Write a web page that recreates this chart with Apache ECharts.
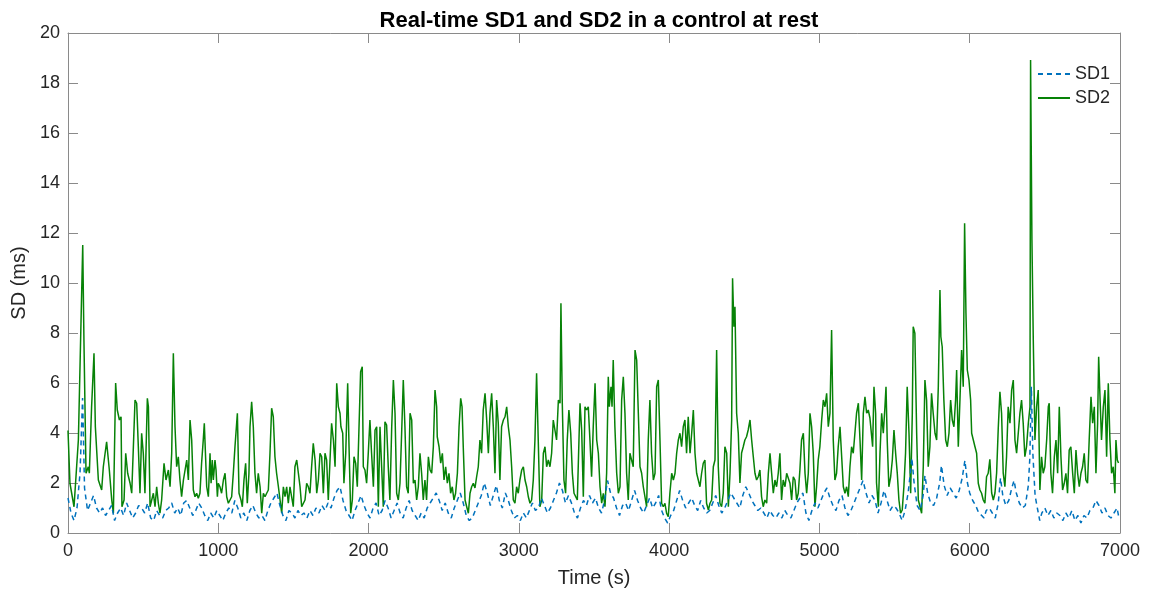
<!DOCTYPE html>
<html>
<head>
<meta charset="utf-8">
<script src="https://cdn.jsdelivr.net/npm/echarts@6/dist/echarts.min.js"></script>
<style>
html,body{margin:0;padding:0;background:#fff;}
#chart{width:1149px;height:594px;}
</style>
</head>
<body>
<div id="chart"></div>
<script>
const titleText = 'Real-time SD1 and SD2 in a control at rest';
const xAxisName = 'Time (s)';
const yAxisName = 'SD (ms)';
const seriesNames = ['SD1', 'SD2'];
const xRange = [0, 7000, 1000];
const yRange = [0, 20, 2];

// SD2 samples: [time (s), SD (ms)]
const sd2Samples = [
[0,4.1],[13,1.99],[40,1.05],[69,3.72],[98,11.52],[106,7.72],[120,2.39],[135,2.65],[142,2.39],[157,5.05],[173,7.19],[182,4.25],[202,2.12],[224,1.72],[235,2.65],[257,3.65],[275,2.52],[291,1.32],[302,0.79],[317,6.0],[328,4.92],[342,4.52],[353,4.65],[359,1.05],[373,1.32],[384,3.19],[397,2.39],[413,1.99],[424,1.59],[435,3.45],[446,5.32],[457,5.19],[468,3.45],[479,1.59],[490,3.99],[501,3.19],[512,1.59],[528,5.39],[535,5.05],[546,1.05],[557,1.32],[568,1.59],[579,1.05],[590,1.85],[601,1.19],[612,0.79],[623,1.32],[639,2.79],[652,2.12],[668,2.52],[679,1.85],[690,3.19],[701,7.19],[712,4.25],[723,2.65],[734,3.05],[745,2.12],[756,1.45],[768,2.12],[779,2.52],[790,2.92],[801,2.12],[812,4.52],[823,3.72],[834,1.72],[845,1.45],[856,1.59],[867,1.39],[878,1.59],[889,2.8],[900,3.72],[907,4.39],
[923,1.85],[934,1.45],[945,3.19],[952,1.99],[960,2.92],[967,2.12],[978,2.92],[985,2.52],[994,1.45],[1000,1.99],[1011,1.85],[1022,1.59],[1034,2.12],[1045,2.39],[1056,1.45],[1067,1.19],[1078,1.32],[1089,1.45],[1100,2.39],[1111,3.45],[1127,4.79],[1138,1.59],[1151,1.32],[1160,1.05],[1171,2.12],[1182,2.79],[1193,1.19],[1204,2.39],[1211,4.25],[1222,5.25],[1233,4.25],[1244,2.39],[1255,1.59],[1266,2.39],[1278,1.85],[1289,0.79],[1300,1.59],[1311,1.45],[1322,1.59],[1333,1.72],[1344,3.19],[1355,4.99],[1366,4.65],[1377,3.05],[1388,2.39],[1400,1.85],[1411,1.32],[1422,0.79],[1433,1.85],[1444,1.45],[1455,1.85],[1466,1.19],[1477,1.85],[1488,1.45],[1499,1.05],[1510,2.65],[1522,2.92],[1533,2.39],[1544,1.85],[1555,1.05],[1566,1.05],[1577,1.32],[1588,1.99],[1599,1.85],[1610,1.59],[1621,2.65],[1632,3.59],[1644,2.92],[1655,1.59],[1666,2.12],[1677,3.19],[1688,3.05],[1699,1.59],[1710,3.19],[1721,2.92],[1732,1.32],[1743,1.32],[1754,4.39],[1766,3.72],[1777,2.65],[1788,5.99],[1799,5.05],[1810,4.79],
[1816,4.25],[1828,3.99],[1836,1.99],[1848,3.19],[1861,5.99],[1870,3.45],[1881,0.79],[1892,1.32],[1903,3.05],[1914,2.79],[1925,1.85],[1936,1.85],[1947,6.45],[1958,6.65],[1965,2.65],[1976,2.52],[1987,1.99],[1998,3.19],[2009,4.52],[2020,3.19],[2032,1.85],[2043,4.12],[2054,4.25],[2065,1.05],[2076,4.25],[2087,2.65],[2098,1.05],[2109,4.45],[2120,4.32],[2131,2.65],[2142,1.32],[2154,4.25],[2165,6.12],[2176,4.79],[2187,1.59],[2198,1.32],[2209,1.99],[2220,3.99],[2231,6.12],[2242,4.25],[2253,1.85],[2264,1.59],[2276,4.79],[2287,4.52],[2298,1.99],[2309,2.12],[2320,1.32],[2331,1.85],[2342,3.19],[2353,2.39],[2364,1.32],[2375,2.12],[2386,1.32],[2398,3.05],[2409,2.52],[2420,2.39],[2431,3.45],[2442,5.72],[2453,5.05],[2457,3.85],[2469,3.45],[2480,2.79],[2491,3.19],[2502,2.12],[2513,2.65],[2524,1.99],[2535,2.39],[2546,1.59],[2557,1.85],[2568,1.32],[2579,1.59],[2591,2.39],[2602,4.25],[2613,5.39],[2622,5.05],[2630,3.45],[2642,1.32],[2653,1.05],[2664,0.79],[2675,1.59],[2686,1.85],[2697,1.99],[2708,1.8],
[2719,2.25],[2730,2.65],[2741,3.72],[2752,3.19],[2763,4.92],[2775,5.59],[2786,4.52],[2797,3.19],[2808,4.79],[2819,5.59],[2830,4.25],[2841,2.39],[2852,5.32],[2863,4.39],[2874,2.12],[2885,4.25],[2897,4.52],[2908,4.65],[2919,5.05],[2930,4.25],[2941,3.72],[2952,2.65],[2963,1.32],[2974,1.19],[2985,1.85],[2996,1.59],[3007,2.12],[3019,2.52],[3030,2.65],[3041,2.12],[3052,1.85],[3063,1.45],[3074,1.19],[3085,1.32],[3096,2.12],[3107,3.72],[3118,6.39],[3129,3.72],[3140,1.05],[3152,1.32],[3163,3.19],[3174,3.45],[3185,2.65],[3196,2.92],[3207,2.65],[3218,3.19],[3229,4.52],[3240,4.52],[3251,3.72],[3263,5.32],[3274,5.19],[3280,9.19],[3289,5.19],[3300,2.12],[3311,1.59],[3322,3.72],[3333,4.92],[3345,3.99],[3356,2.39],[3367,1.59],[3378,1.59],[3389,1.32],[3400,3.72],[3407,5.19],[3418,4.12],[3429,1.45],[3440,5.05],[3451,4.92],[3462,5.05],[3473,3.72],[3484,2.25],[3495,4.25],[3507,5.99],[3518,3.72],[3529,3.19],[3540,1.85],[3551,1.19],[3562,1.59],[3573,1.05],[3584,2.39],[3595,6.25],
[3602,5.05],[3613,5.85],[3620,5.05],[3628,6.92],[3639,4.25],[3651,2.39],[3662,1.59],[3673,1.85],[3684,5.32],[3695,6.25],[3706,4.79],[3717,2.39],[3728,1.32],[3739,3.19],[3750,2.92],[3761,2.65],[3773,7.32],[3784,6.92],[3795,4.79],[3806,2.65],[3817,2.39],[3828,1.85],[3839,1.45],[3850,1.05],[3861,3.72],[3872,5.32],[3883,3.19],[3895,2.12],[3906,2.39],[3917,5.85],[3928,6.12],[3939,3.72],[3950,1.19],[3961,1.05],[3972,1.19],[3983,0.79],[3994,0.65],[4005,1.59],[4017,2.39],[4028,2.12],[4039,2.39],[4050,3.19],[4061,3.72],[4072,3.99],[4083,3.45],[4094,4.25],[4105,4.52],[4116,3.19],[4127,4.65],[4139,3.19],[4150,3.99],[4161,4.92],[4172,3.19],[4183,2.39],[4194,2.12],[4205,1.85],[4216,2.39],[4227,2.79],[4238,2.92],[4249,1.19],[4261,0.92],[4272,1.19],[4283,1.32],[4294,2.65],[4305,2.92],[4316,7.32],[4327,2.65],[4338,1.19],[4349,1.05],[4360,1.59],[4371,3.45],[4383,3.19],[4394,1.05],[4405,2.39],[4416,4.52],[4422,10.19],[4431,8.25],[4438,9.05],[4449,4.79],
[4460,3.99],[4471,2.0],[4482,3.2],[4493,3.45],[4504,3.72],[4515,3.85],[4526,4.12],[4538,4.52],[4549,3.72],[4560,3.05],[4571,2.39],[4582,2.12],[4593,2.25],[4604,2.52],[4615,1.45],[4626,1.05],[4637,1.32],[4649,1.19],[4660,2.39],[4671,3.19],[4682,2.39],[4693,1.59],[4704,2.12],[4715,1.85],[4726,2.39],[4737,3.19],[4748,1.32],[4759,2.12],[4771,1.85],[4782,2.39],[4793,2.39],[4804,1.99],[4815,1.32],[4826,2.25],[4837,2.12],[4848,1.32],[4859,1.59],[4870,2.52],[4881,3.72],[4893,3.99],[4904,2.39],[4915,1.59],[4926,2.39],[4937,4.79],[4948,4.25],[4959,3.19],[4970,1.05],[4981,1.85],[4992,2.92],[5003,3.45],[5015,4.52],[5026,5.32],[5037,5.05],[5048,5.59],[5059,4.25],[5070,4.79],[5081,8.12],[5092,3.72],[5103,2.12],[5114,2.39],[5125,3.45],[5137,4.25],[5148,3.05],[5159,1.85],[5170,1.59],[5181,1.85],[5192,1.45],[5203,2.65],[5214,3.45],[5225,3.19],[5236,3.99],[5247,4.79],[5259,5.19],[5270,3.72],[5281,2.12],[5292,4.79],[5303,5.45],[5314,4.79],[5325,4.92],[5336,4.6],[5347,3.9],[5354,3.45],[5363,5.85],[5374,4.79],[5380,2.0],[5392,1.05],
[5403,3.19],[5414,4.79],[5425,3.99],[5436,5.05],[5443,5.85],[5451,3.72],[5462,1.85],[5474,2.25],[5485,2.92],[5496,4.12],[5507,3.19],[5518,2.39],[5529,1.32],[5540,0.79],[5551,0.92],[5562,1.85],[5573,3.19],[5584,5.85],[5596,3.99],[5607,1.59],[5618,4.79],[5624,8.25],[5635,7.99],[5647,3.99],[5658,1.32],[5669,1.32],[5680,0.79],[5691,2.65],[5702,6.12],[5713,5.32],[5724,2.65],[5735,3.45],[5746,5.59],[5757,4.79],[5769,3.99],[5780,3.72],[5791,5.85],[5802,9.72],[5808,7.85],[5817,7.45],[5828,5.32],[5840,3.72],[5851,3.45],[5862,3.99],[5873,5.32],[5884,4.52],[5895,4.25],[5906,5.32],[5913,6.52],[5924,3.45],[5935,5.32],[5946,7.32],[5957,5.85],[5966,12.39],[5975,8.79],[5984,6.52],[5995,6.12],[6006,5.32],[6013,3.99],[6024,3.72],[6035,3.45],[6046,3.19],[6057,1.99],[6068,1.72],[6079,1.59],[6090,1.32],[6101,1.19],[6112,2.25],[6123,2.39],[6134,2.95],[6146,1.6],[6157,1.32],[6168,1.6],[6179,2.4],[6190,4.2],[6201,5.65],
[6212,4.79],[6223,2.39],[6234,1.85],[6245,3.05],[6256,5.05],[6268,4.39],[6279,5.72],[6290,6.12],[6301,3.72],[6312,3.19],[6323,3.99],[6334,4.79],[6345,5.32],[6356,4.39],[6367,3.05],[6378,3.45],[6390,4.39],[6401,5.05],[6405,18.92],[6414,11.72],[6423,7.72],[6434,3.72],[6445,5.05],[6456,5.72],[6467,1.72],[6478,3.05],[6489,2.39],[6500,2.65],[6512,3.72],[6523,5.05],[6529,5.19],[6540,2.39],[6551,1.59],[6563,3.05],[6574,3.72],[6585,2.39],[6596,5.05],[6607,3.05],[6618,1.72],[6629,1.99],[6640,2.39],[6651,1.59],[6662,3.32],[6673,3.45],[6685,2.39],[6696,1.59],[6707,3.32],[6718,2.39],[6729,1.85],[6740,2.39],[6751,2.65],[6762,3.19],[6773,2.12],[6784,1.99],[6795,3.72],[6807,5.45],[6818,4.39],[6829,5.05],[6840,2.39],[6851,4.39],[6858,7.05],[6866,5.59],[6877,3.72],[6889,5.05],[6900,5.72],[6911,3.05],[6922,5.99],[6933,3.72],[6944,2.39],[6955,2.65],[6966,1.59],[6973,3.72],[6982,2.92],[6990,2.8]
];

// SD1 samples: [time (s), SD (ms)]
const sd1Samples = [
[0,1.4],[20,0.8],[40,0.5],[60,1.0],[80,2.4],[97,5.4],[110,1.8],[130,0.9],[150,1.2],[170,1.5],[190,1.0],[210,0.8],[230,1.0],[250,0.7],[270,0.9],[290,1.1],[310,0.5],[330,0.8],[350,1.0],[370,0.7],[390,1.2],[410,0.9],[430,0.6],[450,0.8],[470,1.1],[490,1.0],[510,0.8],[530,1.2],[550,0.6],[570,0.5],[590,0.9],[610,0.7],[630,0.6],[650,0.9],[670,1.0],[690,1.2],[710,0.8],[730,1.0],[750,0.7],[770,1.2],[790,1.3],[810,1.0],[830,0.7],[850,0.9],[870,1.2],[890,1.0],
[910,0.7],[930,0.5],[950,0.8],[970,0.6],[990,0.9],[1010,0.7],[1030,0.5],[1050,0.8],[1070,1.0],[1090,0.8],[1110,1.3],[1130,1.0],[1150,0.6],[1170,0.8],[1190,0.5],[1210,0.9],[1230,1.1],[1250,0.8],[1270,0.6],[1290,0.7],[1310,0.5],[1330,0.9],[1350,1.2],[1370,1.4],[1390,1.6],[1410,1.1],[1430,0.7],[1450,0.5],[1470,0.9],[1490,0.8],[1510,0.6],[1530,0.9],[1550,0.7],[1570,0.8],[1590,0.6],[1610,0.9],[1630,0.7],[1650,1.0],[1670,0.8],[1690,1.1],[1710,0.9],[1730,1.2],[1750,1.0],[1770,1.4],[1790,1.7],[1810,1.85],[1830,1.3],[1850,0.9],[1870,0.7],[1890,0.5],[1910,0.9],[1930,1.2],[1950,1.5],[1970,1.1],[1990,0.8],
[2010,0.6],[2030,1.0],[2050,1.2],[2070,0.7],[2090,0.9],[2110,1.3],[2130,1.0],[2150,0.6],[2170,0.9],[2190,1.2],[2210,0.8],[2230,0.6],[2250,1.0],[2270,1.3],[2290,0.9],[2310,0.7],[2330,0.5],[2350,0.8],[2370,0.6],[2390,1.0],[2410,1.2],[2430,1.4],[2450,1.6],[2470,1.3],[2490,0.9],[2510,1.2],[2530,0.8],[2550,0.6],[2570,1.0],[2590,1.3],[2610,1.6],[2630,1.2],[2650,0.7],[2670,0.5],[2690,0.6],[2710,0.9],[2730,1.2],[2750,1.5],[2770,2.0],[2790,1.6],[2810,1.1],[2830,1.5],[2850,1.9],[2870,1.3],[2890,1.0],[2910,1.6],[2930,1.3],[2950,0.9],[2970,0.6],[2990,0.7],
[3010,0.5],[3030,0.8],[3050,0.6],[3070,0.9],[3090,1.2],[3110,0.9],[3130,1.0],[3150,1.4],[3170,1.1],[3190,0.8],[3210,1.0],[3230,1.3],[3250,1.6],[3270,2.0],[3290,1.7],[3310,1.2],[3330,1.5],[3350,1.2],[3370,0.8],[3390,0.6],[3410,1.0],[3430,1.3],[3450,1.1],[3470,1.5],[3490,1.2],[3510,1.4],[3530,1.0],[3550,0.8],[3570,1.3],[3590,2.1],[3610,1.6],[3630,1.4],[3650,1.0],[3670,0.7],[3690,1.1],[3710,1.2],[3730,0.9],[3750,1.3],[3770,1.7],[3790,1.3],[3810,1.0],[3830,0.8],[3850,1.1],[3870,1.4],[3890,1.0],[3910,1.2],[3930,1.5],[3950,0.9],[3970,0.6],[3990,0.4],
[4010,0.7],[4030,0.9],[4050,1.3],[4070,1.7],[4090,1.3],[4110,1.0],[4130,1.2],[4150,1.4],[4170,1.1],[4190,0.9],[4210,1.3],[4230,1.0],[4250,0.8],[4270,0.9],[4290,1.2],[4310,1.5],[4330,1.1],[4350,0.8],[4370,1.0],[4390,1.3],[4410,1.6],[4430,1.4],[4450,1.2],[4470,1.0],[4490,1.5],[4510,1.85],[4530,1.6],[4550,1.3],[4570,1.1],[4590,0.9],[4610,1.0],[4630,0.8],[4650,0.6],[4670,0.9],[4690,0.7],[4710,0.6],[4730,0.8],[4750,0.6],[4770,0.9],[4790,0.7],[4810,0.6],[4830,0.9],[4850,1.2],[4870,1.4],[4890,1.6],[4910,0.8],[4930,0.5],[4950,0.9],[4970,1.2],[4990,1.0],
[5010,1.3],[5030,1.6],[5050,1.8],[5070,1.4],[5090,1.1],[5110,0.9],[5130,1.3],[5150,1.5],[5170,1.0],[5190,0.7],[5210,0.9],[5230,1.2],[5250,1.5],[5270,1.8],[5290,2.1],[5310,1.6],[5330,1.2],[5350,1.5],[5370,1.3],[5390,0.8],[5410,1.2],[5430,1.7],[5450,1.3],[5470,0.9],[5490,1.1],[5510,1.0],[5530,0.8],[5550,0.5],[5570,0.9],[5590,1.6],[5605,2.4],[5615,3.0],[5630,2.0],[5650,1.1],[5670,0.9],[5690,1.5],[5702,2.3],[5720,1.6],[5740,1.2],[5760,1.1],[5780,1.4],[5800,2.0],[5812,2.7],[5830,1.9],[5850,1.5],[5870,1.8],[5890,1.6],[5910,1.4],[5930,1.7],[5950,2.2],[5968,2.9],[5985,2.0],
[6000,1.6],[6020,1.3],[6040,1.1],[6060,0.8],[6080,0.7],[6095,0.6],[6110,0.9],[6130,1.0],[6150,0.8],[6170,0.6],[6190,1.2],[6205,2.2],[6220,1.5],[6240,1.1],[6260,1.3],[6280,1.8],[6295,2.1],[6310,1.6],[6330,1.2],[6350,1.0],[6370,1.1],[6390,1.9],[6400,3.0],[6410,5.85],[6420,3.2],[6435,1.5],[6450,1.0],[6466,0.5],[6480,0.8],[6500,1.0],[6520,0.7],[6540,0.9],[6560,0.6],[6580,0.8],[6600,0.7],[6620,0.5],[6640,0.8],[6660,0.6],[6680,0.9],[6700,0.5],[6720,0.7],[6740,0.4],[6760,0.7],[6780,0.6],[6800,0.9],[6820,1.0],[6840,1.3],[6860,1.1],[6880,0.8],[6900,1.0],[6920,0.7],[6940,0.6],[6960,0.8],[6980,1.0],[6990,0.7]
];

const FONT = '"Liberation Sans", Arial, Helvetica, sans-serif';
const axisColor = '#8a8a8a';
const textColor = '#262626';

const chart = echarts.init(document.getElementById('chart'), null, {renderer: 'canvas'});

function baseX(extra) {
  return Object.assign({
    type: 'value', min: xRange[0], max: xRange[1], interval: xRange[2],
    axisLine: {show: true, onZero: false, lineStyle: {color: axisColor, width: 1}},
    axisTick: {show: true, inside: true, length: 10, lineStyle: {color: axisColor, width: 1}},
    splitLine: {show: false}
  }, extra);
}
function baseY(extra) {
  return Object.assign({
    type: 'value', min: yRange[0], max: yRange[1], interval: yRange[2],
    axisLine: {show: true, onZero: false, lineStyle: {color: axisColor, width: 1}},
    axisTick: {show: true, inside: true, length: 10, lineStyle: {color: axisColor, width: 1}},
    splitLine: {show: false}
  }, extra);
}

chart.setOption({
  animation: false,
  backgroundColor: '#ffffff',
  title: {
    text: titleText, left: 594, top: 5, textAlign: 'center',
    textStyle: {fontFamily: FONT, fontSize: 22, fontWeight: 'bold', color: '#000'}
  },
  legend: {
    data: seriesNames, orient: 'vertical', right: 34, top: 60,
    itemWidth: 32, itemHeight: 12, itemGap: 6,
    itemStyle: {opacity: 0},
    textStyle: {fontFamily: FONT, fontSize: 18, color: textColor}
  },
  grid: {left: 68, right: 29, top: 33, bottom: 61, containLabel: false},
  xAxis: [
    baseX({
      position: 'bottom',
      name: xAxisName, nameLocation: 'middle', nameGap: 35,
      nameTextStyle: {fontFamily: FONT, fontSize: 20, color: textColor},
      axisLabel: {fontFamily: FONT, fontSize: 18, color: textColor, margin: 9,
                  formatter: function (v) { return String(v); }}
    }),
    baseX({position: 'top', axisLabel: {show: false}})
  ],
  yAxis: [
    baseY({
      position: 'left',
      name: yAxisName, nameLocation: 'middle', nameGap: 38,
      nameTextStyle: {fontFamily: FONT, fontSize: 20, color: textColor},
      axisLabel: {fontFamily: FONT, fontSize: 18, color: textColor, margin: 8,
                  formatter: function (v) { return String(v); }}
    }),
    baseY({position: 'right', axisLabel: {show: false}})
  ],
  series: [
    {
      name: seriesNames[0], type: 'line', data: sd1Samples,
      symbol: 'none', showSymbol: false,
      lineStyle: {color: '#0072BD', width: 1.5, type: [5, 4]},
      itemStyle: {color: '#0072BD'}, z: 3
    },
    {
      name: seriesNames[1], type: 'line', data: sd2Samples,
      symbol: 'none', showSymbol: false,
      lineStyle: {color: '#078207', width: 1.5},
      itemStyle: {color: '#078207'}, z: 2
    }
  ]
});
</script>
</body>
</html>
